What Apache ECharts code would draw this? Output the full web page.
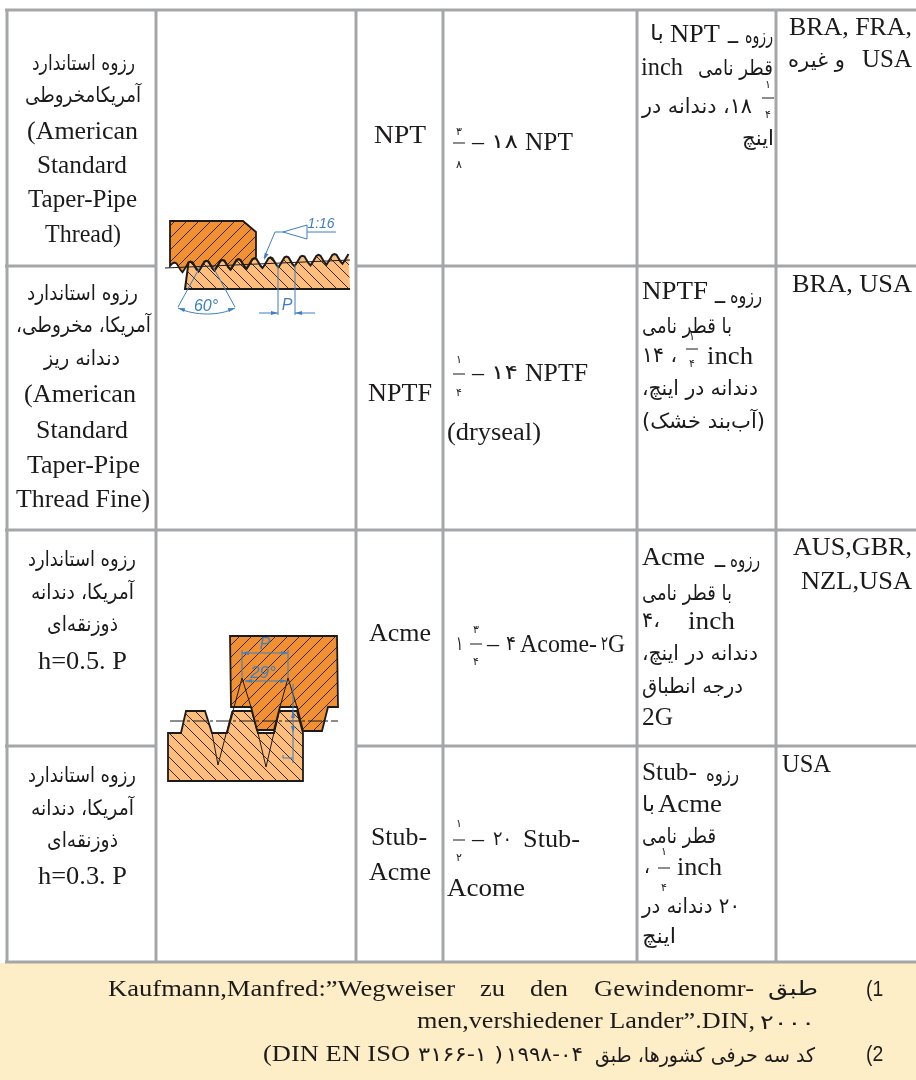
<!DOCTYPE html>
<html><head><meta charset="utf-8">
<style>html,body{margin:0;padding:0;background:#fff}#c{width:916px;height:1080px}</style>
<script src="https://cdn.jsdelivr.net/npm/echarts@6/dist/echarts.min.js"></script>
</head><body><div id="c"></div>
<script>
// ---------- table text ----------
const rowNames = ["رزوه استاندارد","آمریکامخروطی","(American","Standard","Taper-Pipe","Thread)",
  "رزوه استاندارد","آمریکا، مخروطی،","دندانه ریز","(American","Standard","Taper-Pipe","Thread Fine)",
  "رزوه استاندارد","آمریکا، دندانه","ذوزنقه‌ای","h=0.5. P",
  "رزوه استاندارد","آمریکا، دندانه","ذوزنقه‌ای","h=0.3. P"];
const threadCodes = ["NPT","NPTF","Acme","Stub-","Acme"];
const designations = ["–","۱۸","NPT","–","۱۴","NPTF","(dryseal)","۱","–","۴","Acome-","۲","G","–","۲۰","Stub-","Acome"];
const descriptions = ["با","NPT","ـ","رزوه","inch","قطر نامی","۱۸، دندانه در","اینچ",
  "NPTF","ـ","رزوه","با قطر نامی","۱۴ ،","inch","دندانه در اینچ،","(آب‌بند خشک)",
  "Acme","ـ","رزوه","با قطر نامی","۴،","inch","دندانه در اینچ،","درجه انطباق","2G",
  "Stub-","رزوه","با","Acme","قطر نامی","،","inch","۲۰ دندانه در","اینچ"];
const countries = ["BRA, FRA,","USA","و غیره","BRA, USA","AUS,GBR,","NZL,USA","USA"];
const notes = ["Kaufmann,Manfred:”Wegweiser","zu","den","Gewindenomr-","طبق","men,vershiedener Lander”.DIN,","۲۰۰۰","(DIN EN ISO","۳۱۶۶-۱ )","۱۹۹۸-۰۴","کد سه حرفی کشورها، طبق"];
const noteNumbers = ["(1","(2"];
const fractions = [["۳","۸"],["۱","۴"],["۳","۴"],["۱","۲"],["۱","۴"],["۱","۴"],["۱","۴"]];
const figureLabels = ["60°","1:16","P","P","29°"];

// ---------- layout (x0, x1, yCentre) ----------
const rowNameBoxes = [[32,135,65],[25,141,97],[27,138,132],[37,127,166],[28,137,200],[45,121,235],
  [27,138,295],[16,151,327],[44,120,360],[24,136,395],[36,128,431],[27,140,466],[16,150,500],
  [28,136,561],[31,134,594],[47,118,626],[38,127,662],
  [28,136,777],[31,134,810],[47,118,842],[38,127,877]];
const codeBoxes = [[374,426,136],[368,432,394],[369,431,634],[371,427,838],[369,431,873]];
const desigBoxes = [[472,484,143],[491,518,143],[525,573,143],
  [472,484,374],[491,518,374],[525,588,374],[447,541,433],
  [456,463,645],[487,499,645],[506,516,645],[520,597,645],[601,608,645],[608,625,645],
  [472,484,840],[493,512,840],[523,580,840],[447,525,889]];
const descBoxes = [[650,664,35],[670,720,35],[728,738,38],[745,773,38],[641,683,68],[698,773,70],[642,752,108],[742,774,140],
  [642,708,292],[715,725,298],[730,762,298],[642,732,328],[642,677,357],[707,753,357],[642,758,390],[642,765,423],
  [642,705,558],[715,725,562],[730,760,562],[642,732,595],[642,660,622],[688,735,622],[642,758,655],[642,743,688],[642,673,718],
  [642,697,773],[706,739,776],[642,655,806],[658,722,805],[642,716,838],[644,650,868],[677,722,868],[642,740,908],[642,676,938]];
const countryBoxes = [[789,912,28],[862,912,60],[788,845,62],[792,912,285],[793,912,548],[801,912,582],[782,831,765]];
const noteBoxes = [[108,455,990],[480,505,990],[530,568,990],[594,754,990],[768,818,990],[417,755,1022],[760,815,1024],[263,410,1055],[418,503,1056],[506,583,1056],[595,815,1057]];
const noteNumberBoxes = [[866,885,990],[866,885,1055]];
const fractionBoxes = [[459,132,143,165],[459,360,374,393],[476,630,644,662],[459,824,840,858],[768,85,98,115],[692,337,349,364],[664,852,868,888]];
const verticals = [7,156,356,443,637,776];
const horizontals = [10,266,530,746,962];
const merged = [266,746];

const SERIF='"Liberation Serif"', FA='"DejaVu Sans"';
const INK='#1c1a1b', GRID='#a4a6a8', BLUE='#3f7fc1', DARK='#f18f33', LIGHT='#fdbd7c';

const ctx=document.createElement('canvas').getContext('2d');
const hasLetters=s=>/[\u0620-\u06EF]/.test(s);
const isLatin=s=>/[A-Za-z]/.test(s);
function item(s,b,size){
  const fam = isLatin(s)? SERIF : (/[\u0600-\u06FF]/.test(s)? FA : SERIF);
  const str = hasLetters(s)? '\u202B'+s+'\u202C' : s;
  ctx.font=size+'px '+fam;
  const w=ctx.measureText(str).width||1;
  return {type:'text',x:b[0],y:b[2],scaleX:(b[1]-b[0])/w,silent:true,z:20,
    style:{text:str,font:size+'px '+fam,fill:INK,textAlign:'left',textVerticalAlign:'middle'}};
}
function place(texts,boxes,lat,fa){return texts.map((s,i)=>item(s,boxes[i],(isLatin(s)||/^[–(]/.test(s)&&!hasLetters(s))?lat:fa));}
function line(x1,y1,x2,y2,c,w,extra){return Object.assign({type:'line',silent:true,z:10,shape:{x1,y1,x2,y2},style:{stroke:c,lineWidth:w}},extra||{});}
function poly(points,style,z){return {type:'polygon',silent:true,z:z||5,shape:{points},style};}
function pline(points,c,w,z){return {type:'polyline',silent:true,z:z||8,shape:{points},style:{stroke:c,lineWidth:w,fill:'none'}};}
function hatch(bg,dir,step){
  const c=document.createElement('canvas');c.width=c.height=step;
  const g=c.getContext('2d');g.fillStyle=bg;g.fillRect(0,0,step,step);
  g.strokeStyle='#3a2a1c';g.lineWidth=1;
  for(let k=-1;k<=1;k++){g.beginPath();
    if(dir>0){g.moveTo(k*step,step);g.lineTo((k+1)*step,0);}else{g.moveTo(k*step,0);g.lineTo((k+1)*step,step);}
    g.stroke();}
  return {image:c,repeat:'repeat'};
}
function arrow(x,y,a,c){const l=7,s=2;const cs=Math.cos(a),sn=Math.sin(a);
  return poly([[x,y],[x-l*cs-s*sn,y-l*sn+s*cs],[x-l*cs+s*sn,y-l*sn-s*cs]],{fill:c},15);}
function blue(x,y,s,size){return {type:'text',x,y,silent:true,z:21,style:{text:s,font:'italic '+size+'px "Liberation Sans"',fill:BLUE,textAlign:'center',textVerticalAlign:'middle'}};}

const g=[];
g.push({type:'rect',z:0,silent:true,shape:{x:0,y:0,width:916,height:1080},style:{fill:'#fff'}});
g.push({type:'rect',z:1,silent:true,shape:{x:0,y:963,width:916,height:117},style:{fill:'#fdeec7'}});

// grid
verticals.forEach(x=>g.push(line(x,9,x,963,GRID,3)));
horizontals.forEach(y=>{
  if(merged.includes(y)){g.push(line(5,y,156,y,GRID,3));g.push(line(356,y,916,y,GRID,3));}
  else g.push(line(5,y,916,y,GRID,3));
});

// upper figure: tapered pipe thread
const wave=[];
for(let i=-1;i<=10;i++){
  const px=190.5+16*i, py=261.7-0.85*i;
  wave.push([px-8,py+10.5],[px-6,py+7.5],[px-2,py+0.8],[px,py],[px+2,py+0.8],[px+6,py+7.5]);
}
const lightTop=wave.filter(p=>p[0]>=185&&p[0]<=350);
const lightPath=[[350,289],[185,289]].concat(lightTop);
g.push(poly(lightPath,{fill:hatch(LIGHT,-1,12)},5));
g.push(pline(lightPath,INK,2,7));
const darkWave=wave.filter(p=>p[0]>=170&&p[0]<=256);
g.push(poly([[170,221],[243,221],[256,232],[256,257]].concat(darkWave.slice().reverse()).concat([[170,266]]),{fill:hatch(DARK,1,12),stroke:INK,lineWidth:1.8},6));
g.push(line(165,268,350,260,INK,1,{z:7}));
// 60 degree flank lines
g.push(line(200,267,178,307,BLUE,1));g.push(line(213,267,235,307,BLUE,1));
g.push({type:'bezierCurve',silent:true,z:12,shape:{x1:178,y1:308,cpx1:195,cpy1:316,cpx2:220,cpy2:316,x2:235,y2:308},style:{stroke:BLUE,lineWidth:1,fill:'none'}});
g.push(arrow(178,308,Math.PI*1.1,BLUE));g.push(arrow(235,308,-Math.PI*0.1,BLUE));
g.push(blue(206,307,figureLabels[0],16));
// 1:16 taper mark
g.push(line(264,258,275,232,BLUE,1));g.push(line(275,232,336,232,BLUE,1));
g.push(arrow(264,260,Math.PI*0.62,BLUE));
g.push({type:'polygon',silent:true,z:12,shape:{points:[[283,232],[307,225],[307,239]]},style:{stroke:BLUE,lineWidth:1,fill:'#fff'}});
g.push(blue(321,224,figureLabels[1],14));
// pitch
g.push(line(278,265,278,315,BLUE,1));g.push(line(295,265,295,315,BLUE,1));
g.push(line(259,313,278,313,BLUE,1));g.push(line(295,313,315,313,BLUE,1));
g.push(arrow(278,313,0,BLUE));g.push(arrow(295,313,Math.PI,BLUE));
g.push(blue(287,306,figureLabels[2],16));

// lower figure: Acme thread
g.push(poly([[168,733],[181,733],[186,711],[205,711],[212,733],[227,733],[233,711],[252,711],[258,733],[274,733],[279,711],[297,711],[303,733],[303,781],[168,781]],{fill:hatch(LIGHT,-1,12),stroke:INK,lineWidth:1.8},5));
g.push(poly([[230,636],[337,636],[338,707],[328,707],[322,731],[303,731],[297,707],[280,707],[274,730],[257,730],[251,707],[231,707]],{fill:hatch(DARK,1,12),stroke:INK,lineWidth:1.8},6));
[[[212,733],[218,765],[232,711]],[[258,733],[266,767],[279,711]],[[233,711],[242,678],[251,707]],[[280,707],[288,678],[297,707]]].forEach(p=>g.push(pline(p,INK,1,8)));
g.push(line(170,721,338,721,INK,1,{z:9,style:{stroke:INK,lineWidth:1,lineDash:[14,3,3,3]}}));
g.push(line(242,650,242,678,BLUE,1,{z:12}));g.push(line(288,650,288,678,BLUE,1,{z:12}));
g.push(line(293,684,293,763,BLUE,1,{z:12}));
g.push(line(242,653,288,653,BLUE,1,{z:12}));g.push(arrow(242,653,Math.PI,BLUE));g.push(arrow(288,653,0,BLUE));
g.push(line(245,681,287,681,BLUE,1,{z:12}));g.push(arrow(245,681,Math.PI,BLUE));g.push(arrow(287,681,0,BLUE));
g.push(line(283,758,293,758,BLUE,1,{z:12}));g.push(line(283,758,283,755,BLUE,1,{z:12}));
g.push(arrow(293,711,-Math.PI/2,BLUE));g.push(arrow(293,733,Math.PI/2,BLUE));
g.push(blue(265,645,figureLabels[3],16));g.push(blue(263,673,figureLabels[4],17));

// text
g.push(...place(rowNames,rowNameBoxes,25.5,21));
g.push(...place(threadCodes,codeBoxes,25.5,21));
g.push(...place(designations,desigBoxes,25.5,20));
g.push(...place(descriptions,descBoxes,25.5,21));
g.push(...place(countries,countryBoxes,25.5,21));
g.push(...place(notes,noteBoxes,23.5,20));
noteNumbers.forEach((s,i)=>{const b=noteNumberBoxes[i];
  g.push({type:'text',x:b[0],y:b[2],scaleX:0.88,silent:true,z:20,style:{text:s,font:'22px "Liberation Sans"',fill:INK,textVerticalAlign:'middle'}});});
fractions.forEach((f,i)=>{const b=fractionBoxes[i];
  g.push(line(b[0]-6,b[2],b[0]+6,b[2],INK,1,{z:20}));
  [[f[0],b[1]],[f[1],b[3]]].forEach(([t,y])=>g.push({type:'text',x:b[0],y,silent:true,z:20,
    style:{text:t,font:'11px '+FA,fill:INK,textAlign:'center',textVerticalAlign:'middle'}}));
});

const chart=echarts.init(document.getElementById('c'),null,{renderer:'canvas',width:916,height:1080});
chart.setOption({animation:false,graphic:{elements:g}});
</script></body></html>
